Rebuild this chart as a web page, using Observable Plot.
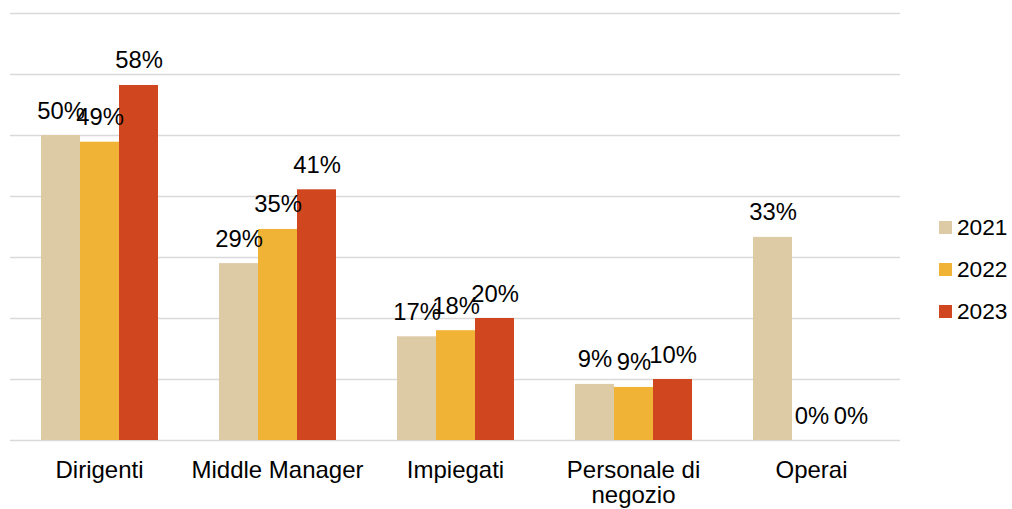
<!DOCTYPE html>
<html>
<head>
<meta charset="utf-8">
<script src="https://cdn.jsdelivr.net/npm/d3@7"></script>
<script src="https://cdn.jsdelivr.net/npm/@observablehq/plot@0.6"></script>
<style>
  html, body { margin: 0; padding: 0; background: #fff; }
  #wrap { position: relative; width: 1012px; height: 509px; font-family: "Liberation Sans", Arial, sans-serif; }
  #legend { position: absolute; left: 939px; top: 0; }
  .row { position: absolute; left: 0; display: flex; align-items: center; white-space: nowrap; font-size: 22.7px; color: #000; }
  .sw { width: 13px; height: 13px; margin-right: 5px; }
</style>
</head>
<body>
<div id="wrap"><div id="legend"></div></div>
<script>
const categories = ["Dirigenti", "Middle Manager", "Impiegati", "Personale di negozio", "Operai"];
const tickLabels = ["Dirigenti", "Middle Manager", "Impiegati", "Personale di\nnegozio", "Operai"];
const years = ["2021", "2022", "2023"];
const values2021 = [50, 29, 17, 9.2, 33.3];
const values2022 = [48.9, 34.6, 18, 8.7, 0];
const values2023 = [58.2, 41.1, 20, 10, 0];
const colors = ["#DDCBA5", "#F0B336", "#D0471F"];
const gridTicks = [0, 10, 20, 30, 40, 50, 60, 70];

const series = [values2021, values2022, values2023];
const data = [];
categories.forEach((c, i) => years.forEach((y, j) => data.push({category: c, year: y, value: series[j][i]})));

const font = '"Liberation Sans", Arial, sans-serif';
const chart = Plot.plot({
  width: 1012,
  height: 509,
  marginLeft: 10,
  marginRight: 112,
  marginTop: 13,
  marginBottom: 69,
  style: {fontFamily: font, background: "#fff", color: "#000"},
  fx: {domain: categories, padding: 0, axis: null},
  x: {domain: years, paddingInner: 0, paddingOuter: 0.74, axis: null},
  y: {domain: [0, 70], axis: null},
  color: {domain: years, range: colors},
  marks: [
    Plot.gridY(gridTicks, {stroke: "#d9d9d9", strokeOpacity: 1, strokeWidth: 1.5}),
    Plot.barY(data, {fx: "category", x: "year", y: "value", fill: "year"}),
    Plot.text(data, {
      fx: "category", x: "year", y: "value",
      text: d => Math.round(d.value) + "%",
      lineAnchor: "bottom", dy: -17, fontSize: 23.8, fill: "#000"
    }),
    Plot.axisFx({
      anchor: "bottom", label: null, tickSize: 0, tickPadding: 19,
      tickFormat: d => tickLabels[categories.indexOf(d)],
      fontSize: 24, lineHeight: 1.07, fill: "#000"
    })
  ]
});
document.getElementById("wrap").prepend(chart);

const legend = document.getElementById("legend");
const rowCenters = [227, 269, 311];
years.forEach((y, i) => {
  const row = document.createElement("div");
  row.className = "row";
  row.style.top = (rowCenters[i] - 14) + "px";
  row.style.height = "28px";
  const sw = document.createElement("div");
  sw.className = "sw";
  sw.style.background = colors[i];
  const t = document.createElement("span");
  t.textContent = y;
  row.append(sw, t);
  legend.append(row);
});
</script>
</body>
</html>
